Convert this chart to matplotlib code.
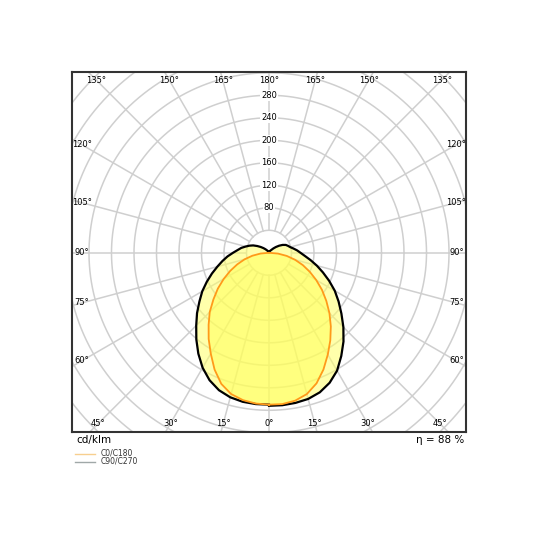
import numpy as np
import matplotlib
matplotlib.use('Agg')
import matplotlib.pyplot as plt

# luminous intensity, cd/klm, gamma measured from nadir (0 = down)
gamma = [0, 5, 10, 15, 20, 25, 30, 35, 40, 45, 50, 55, 60, 65, 70, 75, 80, 85, 90,
         95, 100, 105, 110, 115, 120, 125, 130, 135, 140, 150, 160, 170, 180]
c90 = [272, 272, 271, 269, 264, 255, 242, 224, 206, 187, 168, 151, 135, 118, 102, 88, 75, 64, 56,
       50, 44, 39, 36, 33, 28, 22, 16, 11, 7, 4, 2, 1, 1]
c270 = [270, 270, 269, 266, 260, 250, 236, 219, 201, 183, 167, 151, 137, 122, 108, 95, 84, 74, 64,
        56, 50, 43, 37, 31, 24, 18, 13, 9, 6, 3, 2, 1, 1]
gamma_c0 = [0, 5, 10, 15, 20, 25, 30, 35, 40, 45, 50, 55, 60, 65, 70, 75, 80, 85, 90]
c0 = [270, 270, 267, 260, 247, 229, 209, 190, 171, 152, 133, 115, 97, 80, 64, 48, 32, 16, 0]
c180 = [270, 269, 266, 260, 248, 229, 207, 187, 167, 149, 129, 111, 93, 76, 60, 45, 30, 15, 0]

ring_values = [40, 80, 120, 160, 200, 240, 280, 320, 360, 400, 440, 480]
ring_labels = [80, 120, 160, 200, 240, 280]
angle_labels = [0, 15, 30, 45, 60, 75, 90, 105, 120, 135, 150, 165, 180]
efficiency = 88

XMIN, XMAX, YMIN, YMAX = -350.2, 350.2, -318.6, 321.4


def to_xy(g, r, side):
    g = np.radians(np.asarray(g, dtype=float))
    r = np.asarray(r, dtype=float)
    return side * r * np.sin(g), -r * np.cos(g)


fig = plt.figure(figsize=(5.4, 5.4), dpi=100)
ax = fig.add_axes([72 / 540, 108 / 540, 394 / 540, 360 / 540])
ax.set_xlim(XMIN, XMAX)
ax.set_ylim(YMIN, YMAX)
ax.set_xticks([])
ax.set_yticks([])
for s in ax.spines.values():
    s.set_color('#333333')
    s.set_linewidth(1.5)
    s.set_zorder(10)

# grid
t = np.linspace(0, 2 * np.pi, 400)
for rv in ring_values:
    ax.plot(rv * np.cos(t), rv * np.sin(t), color='#cfcfcf', lw=1.1, zorder=1)
for a in range(0, 360, 15):
    ar = np.radians(a)
    ax.plot([40 * np.sin(ar), 600 * np.sin(ar)], [-40 * np.cos(ar), -600 * np.cos(ar)],
            color='#cfcfcf', lw=1.1, zorder=1)

# curves
xr, yr = to_xy(gamma, c90, 1)
xl, yl = to_xy(gamma[::-1], c270[::-1], -1)
bx = np.concatenate([xr, xl])
by = np.concatenate([yr, yl])
ax.fill(bx, by, color='#ffff66', alpha=0.55, lw=0, zorder=2)

xr, yr = to_xy(gamma_c0, c0, 1)
xl, yl = to_xy(gamma_c0[::-1], c180[::-1], -1)
ox = np.concatenate([xr, xl])
oy = np.concatenate([yr, yl])
ax.fill(ox, oy, color='#ffff55', alpha=0.5, lw=0, zorder=3)

ax.plot(bx, by, color='black', lw=1.6, zorder=5, solid_joinstyle='round')
ax.plot(ox, oy, color='#ff9a1a', lw=1.3, zorder=6, solid_joinstyle='round')

# ring value labels
for rv in ring_labels:
    ax.text(0, rv, str(rv), fontsize=6, ha='center', va='center', zorder=7,
            bbox=dict(facecolor='white', edgecolor='none', pad=0.6))

# angle labels around the frame
ix = 333.0
iy_top = 307.0
iy_bot = -304.0
for a in angle_labels:
    ar = np.radians(a)
    for side in (1, -1):
        if side == -1 and a in (0, 180):
            continue
        dx = side * np.sin(ar)
        dy = -np.cos(ar)
        ts = []
        if abs(dx) > 1e-9:
            ts.append(ix / abs(dx))
        if dy > 1e-9:
            ts.append(iy_top / dy)
        elif dy < -1e-9:
            ts.append(-iy_bot / -dy)
        tt = min(ts)
        ax.text(tt * dx, tt * dy, '%d°' % a, fontsize=6, ha='center', va='center',
                zorder=7, clip_on=True)

# text under the frame
fig.text(76 / 540, 1 - 440 / 540, 'cd/klm', fontsize=7.5, ha='left', va='center')
fig.text(464 / 540, 1 - 440 / 540, 'η = %d %%' % efficiency, fontsize=7.5, ha='right', va='center')

fig.lines.append(plt.Line2D([75 / 540, 95 / 540], [1 - 454 / 540, 1 - 454 / 540],
                            color='#f7cf8f', lw=1, transform=fig.transFigure))
fig.lines.append(plt.Line2D([75 / 540, 95 / 540], [1 - 462 / 540, 1 - 462 / 540],
                            color='#a0a8a8', lw=1, transform=fig.transFigure))
fig.text(101 / 540, 1 - 453 / 540, 'C0/C180', fontsize=5.5, ha='left', va='center', color='#333333')
fig.text(101 / 540, 1 - 461 / 540, 'C90/C270', fontsize=5.5, ha='left', va='center', color='#333333')

fig.savefig('out.png', dpi=100)
